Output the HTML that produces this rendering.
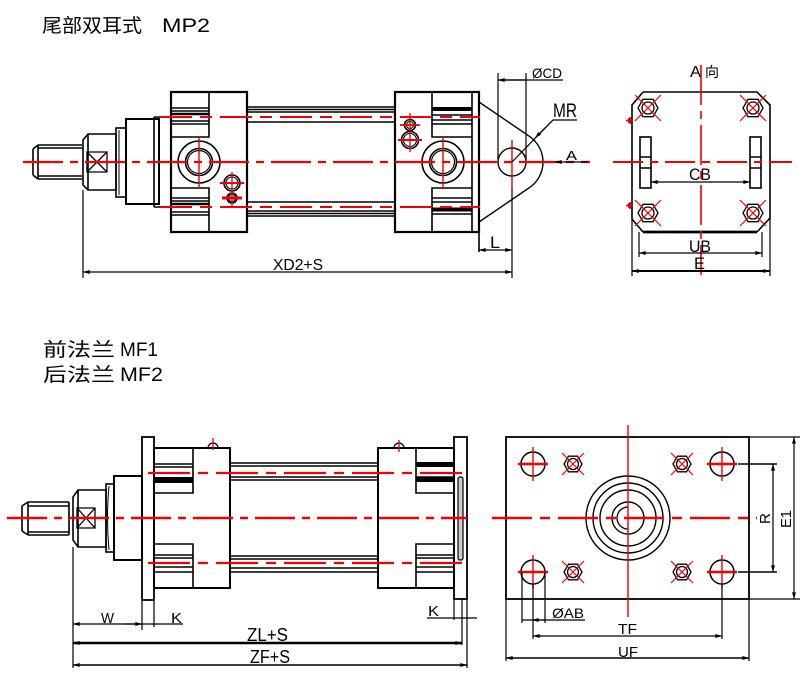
<!DOCTYPE html>
<html><head><meta charset="utf-8"><style>
html,body{margin:0;padding:0;background:#fff;}
svg{display:block;}
text{font-family:"Liberation Sans","Noto Sans CJK SC",sans-serif;fill:#000;}
</style></head><body>
<svg width="805" height="680" viewBox="0 0 805 680" xmlns="http://www.w3.org/2000/svg">
<defs>
<marker id="ar" viewBox="0 0 10 6" refX="10" refY="3" markerWidth="7" markerHeight="4" markerUnits="userSpaceOnUse" orient="auto-start-reverse"><path d="M0,0 L10,3 L0,6 Z" fill="#000"/></marker>
<g id="hexA"><polygon points="10,0 5,8.7 -5,8.7 -10,0 -5,-8.7 5,-8.7" fill="none" stroke="#000" stroke-width="1.3"/><circle r="6" fill="none" stroke="#000" stroke-width="1.3"/><path d="M-13,-13 L13,13 M-13,13 L13,-13" stroke="#e00" stroke-width="1.2"/></g>
<g id="hexB"><polygon points="9,0 4.5,7.8 -4.5,7.8 -9,0 -4.5,-7.8 4.5,-7.8" fill="none" stroke="#000" stroke-width="1.3"/><circle r="5.5" fill="none" stroke="#000" stroke-width="1.3"/><path d="M-11,-11 L11,11 M-11,11 L11,-11" stroke="#e00" stroke-width="1.2"/></g>
<g id="hole"><circle r="12" fill="none" stroke="#000" stroke-width="1.5"/><path d="M-15,0 L15,0" stroke="#e00" stroke-width="2.4"/><path d="M0,-17 L0,17" stroke="#e00" stroke-width="1.4"/></g>
</defs>

<!-- Titles -->
<text x="42" y="32" font-size="19" textLength="100" lengthAdjust="spacingAndGlyphs">尾部双耳式</text>
<text x="162" y="32" font-size="19" textLength="48" lengthAdjust="spacingAndGlyphs">MP2</text>
<text x="43" y="356" font-size="19" textLength="72" lengthAdjust="spacingAndGlyphs">前法兰</text>
<text x="120" y="356" font-size="19" textLength="38" lengthAdjust="spacingAndGlyphs">MF1</text>
<text x="43" y="381" font-size="19" textLength="72" lengthAdjust="spacingAndGlyphs">后法兰</text>
<text x="120" y="381" font-size="19" textLength="43" lengthAdjust="spacingAndGlyphs">MF2</text>

<!-- ================= TOP SIDE VIEW ================= -->
<g fill="none" stroke="#000" stroke-width="1.6">
  <path d="M38,145 L82,145 M38,179 L82,179 M33,149 L33,175 M33,149 L38,145 M33,175 L38,179 M38,145 L38,179 M38,148 L82,148 M38,176 L82,176"/>
  <path d="M83,140 L88,134 L116,134 L116,190 L88,190 L83,185 Z M88,134 L88,190"/>
  <path d="M87,152 L107,152 L107,172 L87,172 Z M87,152 L107,172 M87,172 L107,152" stroke-width="1.3"/>
  <rect x="116" y="128" width="10" height="69"/>
  <path d="M119,130 L119,195" stroke-width="1"/>
  <rect x="126" y="119" width="33" height="85" stroke-width="2"/>
  <path d="M154,117 L154,207 M154,117 L171,117 M154,207 L171,207"/>
  <rect x="171" y="92" width="76" height="140" stroke-width="2.2"/>
  <path d="M209,92 L209,137 L171,137 M209,232 L209,188 L171,188"/>
  <path d="M171,108 L209,108 M171,111 L209,111 M171,121 L209,121 M171,124 L209,124 M171,198 L209,198 M171,201 L209,201 M171,212 L209,212 M171,215 L209,215"/>
  <path d="M171,114 L209,114 M171,204 L209,204" stroke-width="2.6"/>
  <path d="M247,107 L395,107 M247,109.5 L395,109.5 M247,112 L395,112 M247,122 L395,122 M247,202 L395,202 M247,211 L395,211 M247,213.5 L395,213.5 M247,216 L395,216" stroke-width="1.5"/>
  <rect x="395" y="92" width="84" height="140" stroke-width="2.2"/>
  <path d="M432,92 L432,137 L472,137 M432,232 L432,188 L472,188 M472,92 L472,232 M479,232 L479,252"/>
  <path d="M432,115 L472,115 M432,120 L472,120 M432,124 L472,124 M432,198 L472,198 M432,202 L472,202 M432,214 L472,214"/>
  <path d="M432,109 L472,109 M432,209.5 L472,209.5" stroke-width="4"/>
  <circle cx="199" cy="162" r="21"/>
  <circle cx="199" cy="162" r="13.5"/>
  <circle cx="199" cy="162" r="11.5" stroke-width="1.2"/>
  <circle cx="232" cy="183" r="8"/>
  <circle cx="232" cy="183" r="6" stroke-width="1.1"/>
  <circle cx="232" cy="198" r="5"/>
  <circle cx="232" cy="198" r="3.5" stroke-width="1"/>
  <circle cx="443" cy="162" r="21"/>
  <circle cx="443" cy="162" r="13.5"/>
  <circle cx="443" cy="162" r="11.5" stroke-width="1.2"/>
  <circle cx="410" cy="125" r="5.5"/>
  <circle cx="410" cy="125" r="3.5" stroke-width="1"/>
  <circle cx="410" cy="140" r="8.5"/>
  <circle cx="410" cy="140" r="6.5" stroke-width="1.1"/>
  <path d="M479,102 L529.5,136.4 A31 31 0 0 1 529.5,187.6 L479,222" stroke-width="1.4"/>
  <circle cx="512" cy="162" r="14" stroke-width="1.4"/>
</g>
<g fill="none" stroke="#e00">
  <path d="M23,162 L590,162" stroke-width="2.2" stroke-dasharray="40 7 8 7"/>
  <path d="M160,117 L480,117 M160,207 L480,207" stroke-width="2" stroke-dasharray="32 8 12 8"/>
  <path d="M199,137 L199,188 M443,137 L443,188 M512,140 L512,188" stroke-width="1.4"/>
  <path d="M232,172 L232,208 M410,113 L410,152" stroke-width="1.3"/>
  <path d="M220,183 L244,183 M398,140 L422,140" stroke-width="2"/>
  <path d="M222,198 L242,198" stroke-width="3"/>
  <path d="M400,125 L420,125" stroke-width="1.8"/>
</g>
<g fill="none" stroke="#000" stroke-width="1.2">
  <path d="M498,73 L498,160 M526,73 L526,160"/>
  <path d="M563,80 L498,80" marker-end="url(#ar)"/>
  <path d="M526,80 L498,80"/>
  <path d="M577,120 L553,120 L512,162"/>
  <path d="M553,120 L535,138" marker-end="url(#ar)"/>
  <path d="M588,162 L555,162" marker-end="url(#ar)"/>
  <path d="M512,188 L512,278 M83,190 L83,278"/>
  <path d="M479,250 L512,250" marker-start="url(#ar)" marker-end="url(#ar)"/>
  <path d="M83,272 L512,272" marker-start="url(#ar)" marker-end="url(#ar)"/>
</g>
<g>
  <text x="532" y="78" font-size="14" textLength="30" lengthAdjust="spacingAndGlyphs">ØCD</text>
  <text x="553" y="117" font-size="19" textLength="24" lengthAdjust="spacingAndGlyphs">MR</text>
  <text x="566" y="160" font-size="13" textLength="11" lengthAdjust="spacingAndGlyphs">A</text>
  <text x="490" y="248" font-size="17" textLength="10" lengthAdjust="spacingAndGlyphs">L</text>
  <text x="273" y="270" font-size="16" textLength="50" lengthAdjust="spacingAndGlyphs">XD2+S</text>
</g>

<!-- ================= A VIEW ================= -->
<g fill="none" stroke="#000" stroke-width="1.6">
  <path d="M643,92 L757,92 L770,105 L770,218 L757,232 M643,232 L632,219 L632,105 L643,92"/>
  <path d="M643,232 L757,232" stroke-width="2.8"/>
  <path d="M632,219 L632,276 M770,218 L770,276 M639,232 L639,257 M762,232 L762,257" stroke-width="1.2"/>
  <rect x="640" y="137" width="11" height="51"/>
  <path d="M640,157 L651,157 M640,168 L651,168"/>
  <rect x="750" y="137" width="11" height="51"/>
  <path d="M750,157 L761,157 M750,168 L761,168"/>
</g>
<use href="#hexA" transform="translate(648,108)"/>
<use href="#hexA" transform="translate(753,108)"/>
<use href="#hexA" transform="translate(648,213)"/>
<use href="#hexA" transform="translate(753,213)"/>
<path d="M631,117 A3.5 3.5 0 0 0 631,124 Z M631,202 A3.5 3.5 0 0 0 631,209 Z" fill="#e00"/>
<path d="M626,120.5 L633,120.5 M626,205.5 L633,205.5" stroke="#e00" stroke-width="1.5"/>
<g fill="none" stroke="#e00" stroke-width="2">
  <path d="M613,162 L792,162" stroke-dasharray="30 7 8 7"/>
  <path d="M701,65 L701,275" stroke-width="1.6" stroke-dasharray="40 6 8 6"/>
</g>
<g fill="none" stroke="#000" stroke-width="1.2">
  <path d="M651,182 L750,182" marker-start="url(#ar)" marker-end="url(#ar)"/>
  <path d="M639,253 L762,253" marker-start="url(#ar)" marker-end="url(#ar)"/>
  <path d="M632,271 L770,271" stroke-width="2" marker-start="url(#ar)" marker-end="url(#ar)"/>
</g>
<g font-size="17">
  <text x="689" y="180" textLength="22" lengthAdjust="spacingAndGlyphs">CB</text>
  <text x="689" y="252" textLength="22" lengthAdjust="spacingAndGlyphs">UB</text>
  <text x="694" y="269" textLength="11" lengthAdjust="spacingAndGlyphs">E</text>
  <text x="690" y="77" font-size="16" textLength="11" lengthAdjust="spacingAndGlyphs">A</text>
  <text x="705" y="77" font-size="14">向</text>
</g>

<!-- ================= BOTTOM SIDE VIEW ================= -->
<g fill="none" stroke="#000" stroke-width="1.6">
  <path d="M28,502 L69,502 M28,535 L69,535 M22,506 L22,531 M22,506 L28,502 M22,531 L28,535 M28,502 L28,535 M28,506 L69,506 M28,532 L69,532 M69,502 L69,535"/>
  <path d="M73,497 L78,490 L106,490 L106,547 L78,547 L73,540 Z M78,490 L78,547"/>
  <path d="M77,508 L95,508 L95,528 L77,528 Z M77,508 L95,528 M77,528 L95,508" stroke-width="1.3"/>
  <rect x="106" y="484" width="8" height="68"/>
  <path d="M109,486 Q106,518 109,550" stroke-width="1"/>
  <rect x="114" y="476" width="28" height="84" stroke-width="2"/>
  <rect x="142" y="437" width="12" height="163" stroke-width="1.8"/>
  <path d="M142,600 L142,630 M154,600 L154,627" stroke-width="1.2"/>
  <rect x="154" y="448" width="76" height="140" stroke-width="2"/>
  <path d="M193,448 L193,493 L154,493 M193,588 L193,544 L154,544"/>
  <path d="M154,464 L193,464 M154,467 L193,467 M154,555 L193,555 M154,558 L193,558 M154,567 L193,567 M154,572 L193,572"/>
  <rect x="154" y="477" width="39" height="6" fill="#000" stroke="none"/>
  <path d="M230,463 L378,463 M230,466 L378,466 M230,477 L378,477 M230,480 L378,480 M230,556 L378,556 M230,559 L378,559 M230,568 L378,568 M230,572 L378,572" stroke-width="1.5"/>
  <path d="M208,448 A5 5 0 0 1 218,448 M394,448 A5 5 0 0 1 404,448" stroke-width="1.3"/>
  <rect x="378" y="448" width="76" height="140" stroke-width="2"/>
  <path d="M416,448 L416,493 L454,493 M416,588 L416,544 L454,544"/>
  <path d="M416,477 L454,477 M416,480 L454,480 M416,555 L454,555 M416,558 L454,558 M416,567 L454,567 M416,572 L454,572"/>
  <rect x="416" y="462" width="38" height="5" fill="#000" stroke="none"/>
  <rect x="416" y="477" width="38" height="5" fill="#000" stroke="none"/>
  <rect x="454" y="437" width="13" height="162" stroke-width="1.8"/>
  <path d="M454,599 L454,620 M462,599 L462,645 M467,599 L467,668" stroke-width="1.2"/>
  <rect x="458" y="477" width="5" height="83" rx="2" fill="#ccc" stroke-width="1.2"/>
</g>
<g fill="none" stroke="#e00">
  <path d="M7,518 L467,518" stroke-width="2.4" stroke-dasharray="40 7 8 7"/>
  <path d="M148,473 L468,473 M148,563 L468,563" stroke-width="2.2" stroke-dasharray="42 8 10 8"/>
  <path d="M213,438 L213,450 M399,440 L399,452" stroke-width="1.3"/>
</g>
<g fill="none" stroke="#000" stroke-width="1.2">
  <path d="M73,547 L73,668"/>
  <path d="M73,624 L183,624" marker-start="url(#ar)"/>
  <path d="M125,624 L142,624" marker-end="url(#ar)"/>
  <path d="M73,643 L462,643" stroke-width="2.5" marker-start="url(#ar)" marker-end="url(#ar)"/>
  <path d="M73,665 L467,665" stroke-width="1.6" marker-start="url(#ar)" marker-end="url(#ar)"/>
  <path d="M427,618 L477,618"/>
</g>
<g>
  <text x="101" y="623" font-size="15" textLength="13" lengthAdjust="spacingAndGlyphs">W</text>
  <text x="171" y="623" font-size="15" textLength="11" lengthAdjust="spacingAndGlyphs">K</text>
  <text x="247" y="641" font-size="18" textLength="41" lengthAdjust="spacingAndGlyphs">ZL+S</text>
  <text x="250" y="663" font-size="18" textLength="40" lengthAdjust="spacingAndGlyphs">ZF+S</text>
  <text x="428" y="616" font-size="15" textLength="11" lengthAdjust="spacingAndGlyphs">K</text>
</g>

<!-- ================= FRONT FLANGE VIEW ================= -->
<g fill="none" stroke="#000" stroke-width="1.8">
  <rect x="506" y="437" width="243" height="162"/>
  <path d="M506,599 L506,661 M749,599 L749,661" stroke-width="1.2"/>
  <circle cx="628" cy="518" r="42" stroke-width="1.4"/>
  <circle cx="628" cy="518" r="35" stroke-width="1.4"/>
  <circle cx="628" cy="518" r="28" stroke-width="1.4"/>
  <circle cx="628" cy="518" r="16" stroke-width="1.4"/>
  <path d="M628,507 A11 11 0 1 0 628,529" stroke-width="1.3"/>
</g>
<use href="#hole" transform="translate(533,464)"/>
<use href="#hole" transform="translate(722,464)"/>
<use href="#hole" transform="translate(533,572)"/>
<use href="#hole" transform="translate(722,572)"/>
<use href="#hexB" transform="translate(573,464)"/>
<use href="#hexB" transform="translate(682,464)"/>
<use href="#hexB" transform="translate(573,572)"/>
<use href="#hexB" transform="translate(682,572)"/>
<g fill="none" stroke="#e00">
  <path d="M492,518 L757,518" stroke-width="2.6" stroke-dasharray="40 8 10 8"/>
  <path d="M628,425 L628,617" stroke-width="1.4"/>
</g>
<g fill="none" stroke="#000" stroke-width="1.2">
  <path d="M738,464 L777,464 M738,572 L777,572" stroke-width="1.6"/>
  <path d="M773,464 L773,572" marker-start="url(#ar)" marker-end="url(#ar)"/>
  <path d="M749,437 L800,437 M749,599 L800,599"/>
  <path d="M794,437 L794,599" marker-start="url(#ar)" marker-end="url(#ar)"/>
  <path d="M522,572 L522,623 M545,572 L545,623"/>
  <path d="M585,620 L522,620"/>
  <path d="M532,620 L545,620" marker-start="url(#ar)"/>
  <path d="M533,584 L533,639 M722,584 L722,639"/>
  <path d="M533,636 L722,636" marker-start="url(#ar)" marker-end="url(#ar)"/>
  <path d="M506,658 L749,658" stroke-width="1.6" marker-start="url(#ar)" marker-end="url(#ar)"/>
</g>
<g font-size="15">
  <text x="552" y="618" font-size="14" textLength="32" lengthAdjust="spacingAndGlyphs">ØAB</text>
  <text x="618" y="634" textLength="19" lengthAdjust="spacingAndGlyphs">TF</text>
  <text x="618" y="657" textLength="20" lengthAdjust="spacingAndGlyphs">UF</text>
  <text transform="translate(770,524) rotate(-90)" textLength="11" lengthAdjust="spacingAndGlyphs">R</text>
  <text transform="translate(791,528) rotate(-90)" textLength="18" lengthAdjust="spacingAndGlyphs">E1</text>
</g>
</svg>
</body></html>
